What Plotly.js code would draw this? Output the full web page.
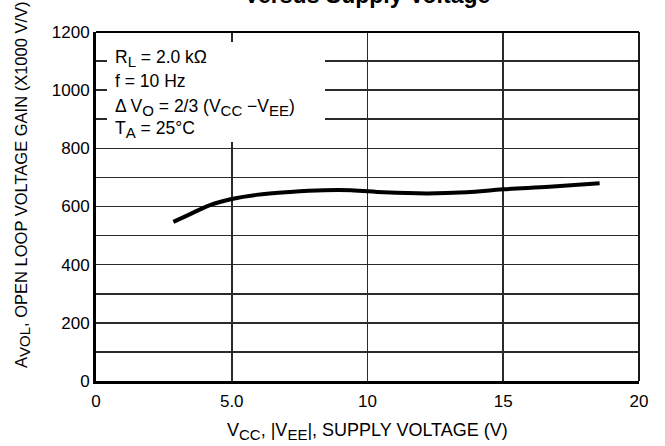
<!DOCTYPE html>
<html>
<head>
<meta charset="utf-8">
<script src="https://cdn.plot.ly/plotly-3.0.1.min.js"></script>
<style>html,body{margin:0;padding:0;background:#fff;}#chart{width:665px;height:446px;}</style>
</head>
<body>
<div id="chart"></div>
<script>
// Supply voltage (V)
var supplyVoltage = [2.85, 3.45, 4.2, 5.0, 5.9, 7.15, 8.4, 9.4, 10.6, 12.2, 13.65, 15.0, 16.7, 18.55];
// Open loop voltage gain (x1000 V/V)
var openLoopGain = [547, 573, 605, 626, 640, 650, 656, 656, 649, 645, 649, 659, 668, 680];
var xTickVals = [0, 5, 10, 15, 20];
var xTickText = ['0', '5.0', '10', '15', '20'];
var yTickVals = [0, 100, 200, 300, 400, 500, 600, 700, 800, 900, 1000, 1100, 1200];
var yTickText = ['0', '', '200', '', '400', '', '600', '', '800', '', '1000', '', '1200'];

function sub(s) { return '<sub><span style="font-size:15px">' + s + '</span></sub>'; }
var conditionLines = [
  'R' + sub('L') + ' = 2.0 kΩ',
  'f = 10 Hz',
  'Δ V' + sub('O') + ' = 2/3 (V' + sub('CC') + ' −V' + sub('EE') + ')',
  'T' + sub('A') + ' = 25°C'
];

var FONT = '"Liberation Sans", Arial, Helvetica, sans-serif';
var W = 665, H = 446, L = 96, R = 26, T = 32, B = 65;
var PH = H - T - B;
function py(pix) { return (H - B - pix) / PH; }   // pixel y -> paper y
function px(pix) { return (pix - L) / (W - L - R); } // pixel x -> paper x

var lineTops = [45, 69, 94, 116];
var annotations = conditionLines.map(function (t, i) {
  return {
    text: t, xref: 'paper', yref: 'paper', x: px(113), y: py(lineTops[i]),
    xanchor: 'left', yanchor: 'top', showarrow: false, align: 'left',
    font: {family: FONT, size: 17.5, color: '#000'}
  };
});
annotations.push({
  text: '<b>Versus Supply Voltage</b>', xref: 'paper', yref: 'paper',
  x: px(367), y: py(10), xanchor: 'center', yanchor: 'bottom', showarrow: false,
  font: {family: FONT, size: 23, color: '#000'}
});
annotations.push({
  text: 'A' + sub('VOL') + ', OPEN LOOP VOLTAGE GAIN (X1000 V/V)', xref: 'paper', yref: 'paper',
  x: px(22), y: py(185), xanchor: 'center', yanchor: 'middle', textangle: -90, showarrow: false,
  font: {family: FONT, size: 16.5, color: '#000'}
});
annotations.push({
  text: 'V' + sub('CC') + ', |V' + sub('EE') + '|, SUPPLY VOLTAGE (V)', xref: 'paper', yref: 'paper',
  x: px(367), y: py(431), xanchor: 'center', yanchor: 'middle', showarrow: false,
  font: {family: FONT, size: 18, color: '#000'}
});

var trace = {
  x: supplyVoltage, y: openLoopGain, type: 'scatter', mode: 'lines',
  line: {color: '#000', width: 4, shape: 'spline', smoothing: 1},
  hoverinfo: 'skip'
};

var layout = {
  width: W, height: H,
  margin: {l: L, r: R, t: T, b: B},
  paper_bgcolor: '#fff', plot_bgcolor: '#fff',
  showlegend: false,
  font: {family: FONT, size: 17, color: '#000'},
  xaxis: {
    range: [0, 20], tickmode: 'array', tickvals: xTickVals, ticktext: xTickText,
    showgrid: true, gridcolor: '#2a2a2a', gridwidth: 1.6, zeroline: false,
    showline: true, linecolor: '#000', linewidth: 3, ticks: '', ticklabelstandoff: 3,
    tickfont: {family: FONT, size: 17, color: '#000'}, fixedrange: true
  },
  yaxis: {
    range: [0, 1200], tickmode: 'array', tickvals: yTickVals, ticktext: yTickText,
    showgrid: true, gridcolor: '#2a2a2a', gridwidth: 1.6, zeroline: false,
    showline: true, linecolor: '#000', linewidth: 3, ticks: '', ticklabelstandoff: 0,
    tickfont: {family: FONT, size: 17, color: '#000'}, fixedrange: true
  },
  shapes: [
    {type: 'rect', xref: 'paper', yref: 'paper', x0: px(107), x1: px(325), y0: py(142), y1: py(42),
     fillcolor: '#fff', line: {width: 0}, layer: 'above'},
    {type: 'line', xref: 'paper', yref: 'paper', x0: 0, x1: 1, y0: 1, y1: 1, line: {color: '#000', width: 1.8}},
    {type: 'line', xref: 'paper', yref: 'paper', x0: 1, x1: 1, y0: 0, y1: 1, line: {color: '#000', width: 1.8}}
  ],
  annotations: annotations
};

Plotly.newPlot('chart', [trace], layout, {staticPlot: true, displayModeBar: false});
</script>
</body>
</html>
